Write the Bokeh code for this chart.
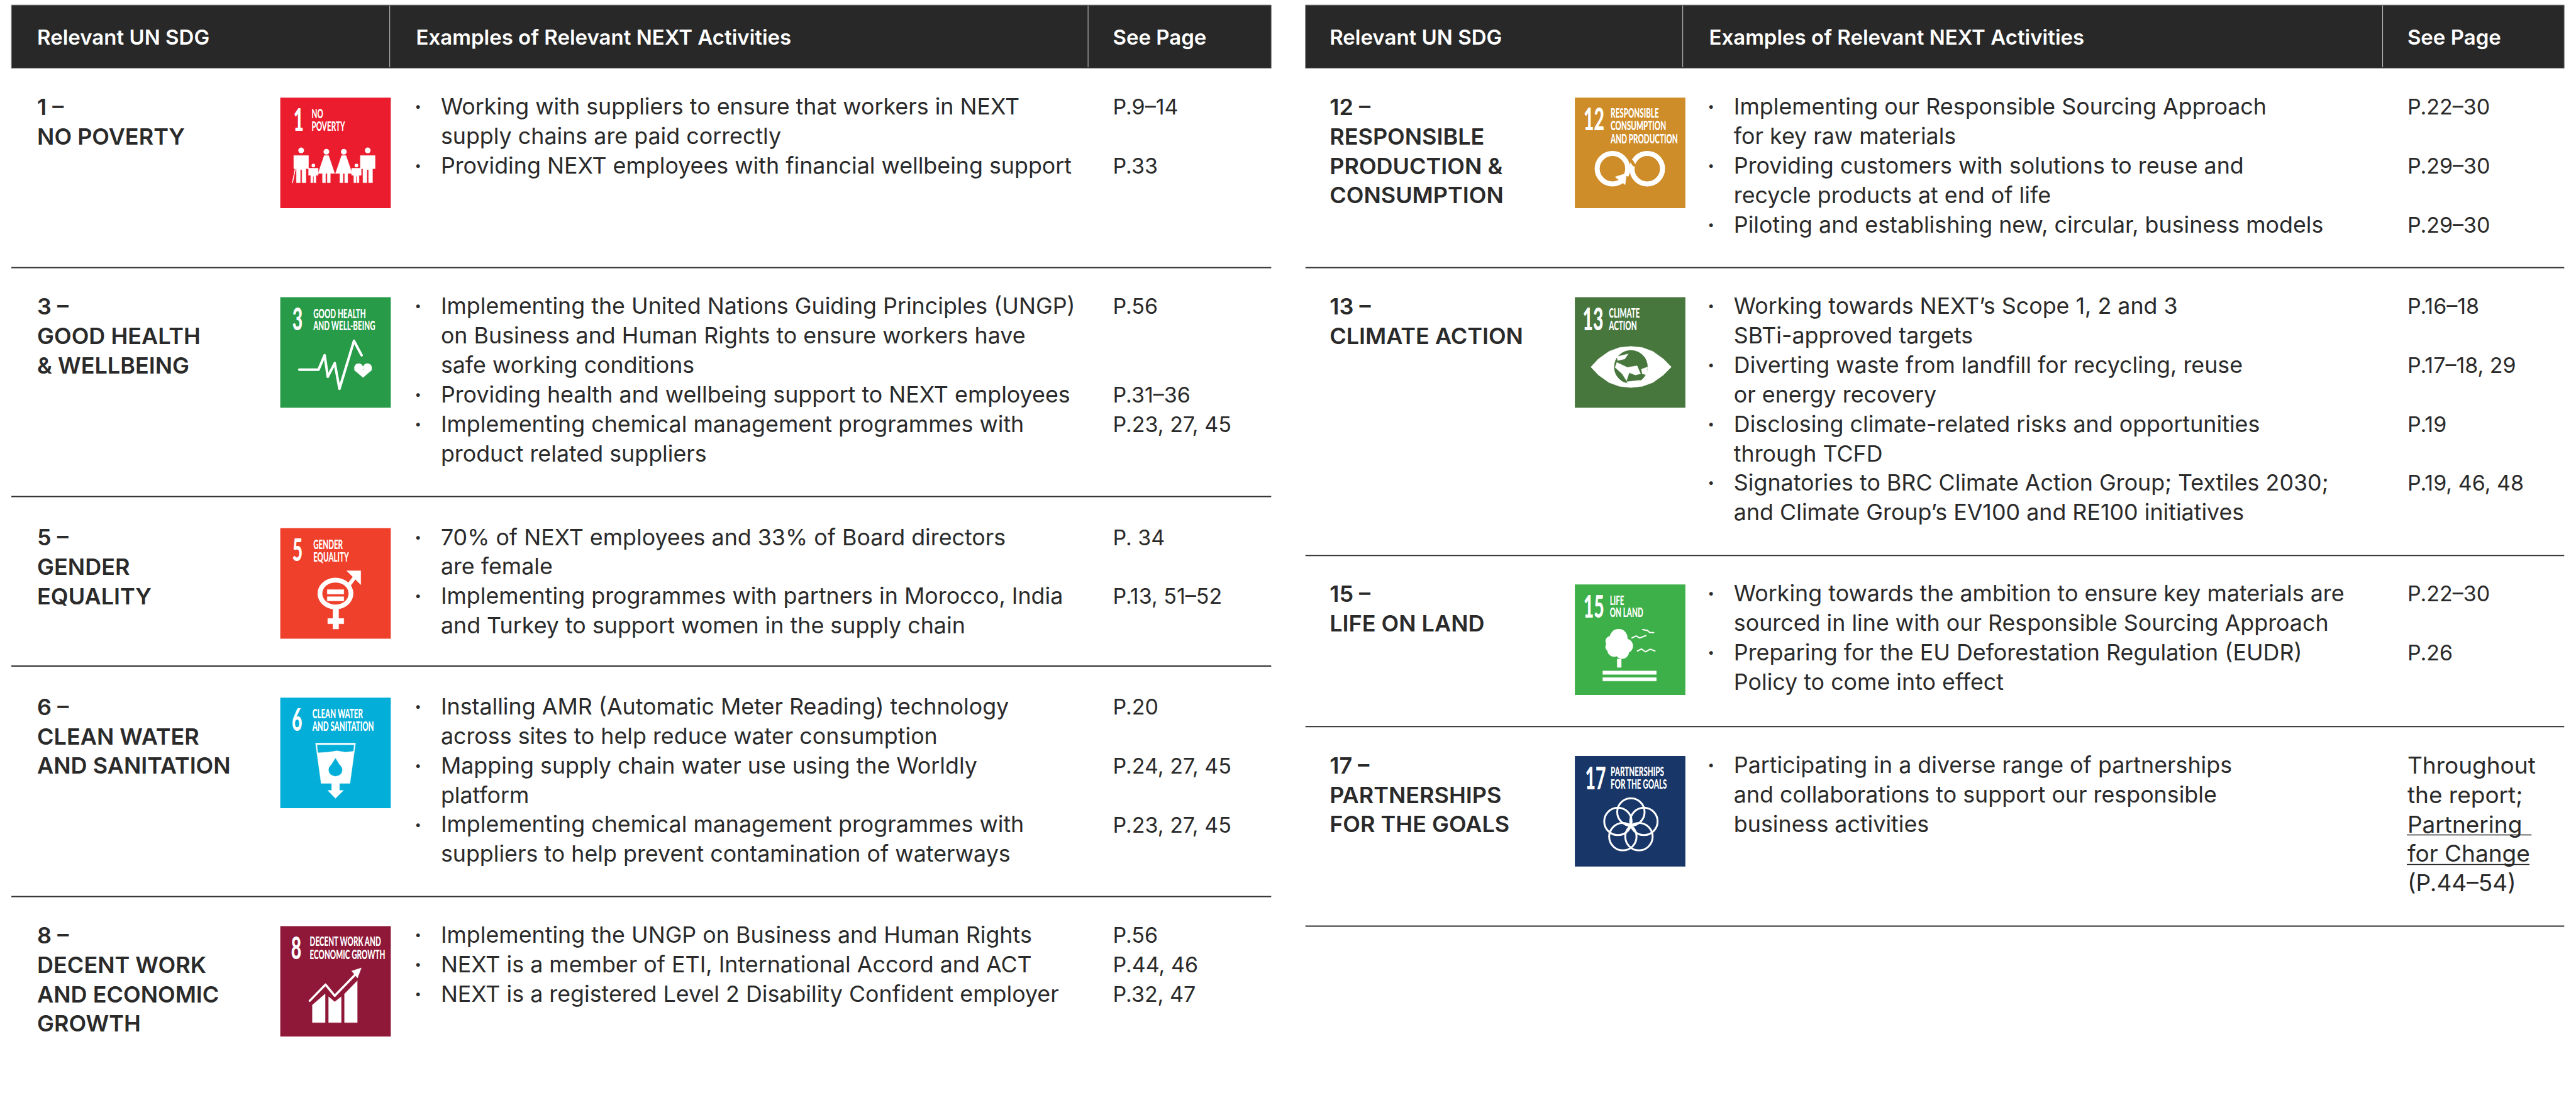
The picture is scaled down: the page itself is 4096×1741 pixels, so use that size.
from bokeh.plotting import figure
from bokeh.embed import file_html
from bokeh.resources import INLINE
from bokeh.core.properties import value
from bokeh.document import Document
from bokeh.models import Range1d, CustomJS

# ---------- table content ----------
headers = ["Relevant UN SDG", "Examples of Relevant NEXT Activities", "See Page"]

sdg_numbers = [1, 3, 5, 6, 8, 12, 13, 15, 17]
sdg_labels = [
    ["1 –", "NO POVERTY"],
    ["3 –", "GOOD HEALTH", "& WELLBEING"],
    ["5 –", "GENDER", "EQUALITY"],
    ["6 –", "CLEAN WATER", "AND SANITATION"],
    ["8 –", "DECENT WORK", "AND ECONOMIC", "GROWTH"],
    ["12 –", "RESPONSIBLE", "PRODUCTION &", "CONSUMPTION"],
    ["13 –", "CLIMATE ACTION"],
    ["15 –", "LIFE ON LAND"],
    ["17 –", "PARTNERSHIPS", "FOR THE GOALS"],
]
sdg_captions = [
    ["NO", "POVERTY"],
    ["GOOD HEALTH", "AND WELL-BEING"],
    ["GENDER", "EQUALITY"],
    ["CLEAN WATER", "AND SANITATION"],
    ["DECENT WORK AND", "ECONOMIC GROWTH"],
    ["RESPONSIBLE", "CONSUMPTION", "AND PRODUCTION"],
    ["CLIMATE", "ACTION"],
    ["LIFE", "ON LAND"],
    ["PARTNERSHIPS", "FOR THE GOALS"],
]
# each activity: list of wrapped lines; "pages" holds the reference for its first line
activities = [
    [["Working with suppliers to ensure that workers in NEXT", "supply chains are paid correctly"],
     ["Providing NEXT employees with financial wellbeing support"]],
    [["Implementing the United Nations Guiding Principles (UNGP)", "on Business and Human Rights to ensure workers have", "safe working conditions"],
     ["Providing health and wellbeing support to NEXT employees"],
     ["Implementing chemical management programmes with", "product related suppliers"]],
    [["70% of NEXT employees and 33% of Board directors", "are female"],
     ["Implementing programmes with partners in Morocco, India", "and Turkey to support women in the supply chain"]],
    [["Installing AMR (Automatic Meter Reading) technology", "across sites to help reduce water consumption"],
     ["Mapping supply chain water use using the Worldly", "platform"],
     ["Implementing chemical management programmes with", "suppliers to help prevent contamination of waterways"]],
    [["Implementing the UNGP on Business and Human Rights"],
     ["NEXT is a member of ETI, International Accord and ACT"],
     ["NEXT is a registered Level 2 Disability Confident employer"]],
    [["Implementing our Responsible Sourcing Approach", "for key raw materials"],
     ["Providing customers with solutions to reuse and", "recycle products at end of life"],
     ["Piloting and establishing new, circular, business models"]],
    [["Working towards NEXT’s Scope 1, 2 and 3", "SBTi-approved targets"],
     ["Diverting waste from landfill for recycling, reuse", "or energy recovery"],
     ["Disclosing climate-related risks and opportunities", "through TCFD"],
     ["Signatories to BRC Climate Action Group; Textiles 2030;", "and Climate Group’s EV100 and RE100 initiatives"]],
    [["Working towards the ambition to ensure key materials are", "sourced in line with our Responsible Sourcing Approach"],
     ["Preparing for the EU Deforestation Regulation (EUDR)", "Policy to come into effect"]],
    [["Participating in a diverse range of partnerships", "and collaborations to support our responsible", "business activities"]],
]
pages = [
    ["P.9–14", "P.33"],
    ["P.56", "P.31–36", "P.23, 27, 45"],
    ["P. 34", "P.13, 51–52"],
    ["P.20", "P.24, 27, 45", "P.23, 27, 45"],
    ["P.56", "P.44, 46", "P.32, 47"],
    ["P.22–30", "P.29–30", "P.29–30"],
    ["P.16–18", "P.17–18, 29", "P.19", "P.19, 46, 48"],
    ["P.22–30", "P.26"],
    [],
]
partner_pages = ["Throughout", "the report;", "Partnering", "for Change", "(P.44–54)"]

# ---------- layout (in reference pixels) ----------
SCALE = 4096 / 4895
W, H = 4080, 1725
tile_colors = ["#ea1c2d", "#279b48", "#ef402b", "#03aed9", "#8f1838", "#cf8d2a", "#48773e", "#3eb049", "#183668"]
tile_tops = [185, 564, 1003, 1325, 1759, 185, 564, 1110, 1436]
tile_size = 210
is_right = [False] * 5 + [True] * 4
rule_y_left = [508, 943, 1265, 1703]
rule_y_right = [508, 1055, 1380, 1759]

L = dict(x0=21, x1=2415, div1=740, div2=2067, label=70, tile=532, bullet=787, text=837, page=2114)
R = dict(x0=2480, x1=4872, div1=3197, div2=4527, label=2526, tile=2992, bullet=3244, text=3294, page=4574)
head_top, head_bot = 9, 129
LINE = 56
INK = "#2a2a2a"
BODY = "Inter"
BODY_PX = 35.8
PAGE_PX = 34
PARTNER_PX = 37
HEAD_PX = 33
LABEL_PX = 36
TILE_NUM_PX = 49
TILE_CAP_PX = 20
BASE_FIX = 0.34   # this renderer draws "alphabetic" text lower than its y

p = figure(width=W, height=H, output_backend="svg", toolbar_location=None,
           x_range=Range1d(0, W / SCALE), y_range=Range1d(H / SCALE, 0),
           min_border=0, outline_line_color=None)
p.xaxis.visible = False
p.yaxis.visible = False
p.grid.visible = False
p.background_fill_color = "white"


def put(xs, ys, texts, size, font=BODY, style="normal", color=INK):
    d = BASE_FIX * size / SCALE
    p.text(x=xs, y=[y - d for y in ys], text=texts, text_font=value(font), text_font_size=value(f"{size}px"),
           text_font_style=style, text_color=color, text_baseline="alphabetic", text_align="left")


# headers and rules
for c, rules in ((L, rule_y_left), (R, rule_y_right)):
    p.quad(left=c["x0"], right=c["x1"], top=head_top, bottom=head_bot, fill_color="#282828",
           line_color="#8a8a8a", line_width=1)
    p.segment(x0=[c["div1"], c["div2"]], x1=[c["div1"], c["div2"]], y0=head_top + 1, y1=head_bot - 2,
              line_color="#c8c8c8", line_width=1)
    put([c["label"], c["bullet"] + 3, c["page"]], [83] * 3, headers, HEAD_PX, font="Inter SemiBold", color="white")
    p.segment(x0=c["x0"], x1=c["x1"], y0=rules, y1=rules, line_color="#2e2e2e", line_width=2)

# rows
lab_x, lab_y, lab_t = [], [], []
txt_x, txt_y, txt_t = [], [], []
bul_x, bul_y, bul_t = [], [], []
pag_x, pag_y, pag_t = [], [], []
for i in range(len(sdg_numbers)):
    c = R if is_right[i] else L
    top = tile_tops[i]
    for k, s in enumerate(sdg_labels[i]):
        lab_x.append(c["label"]); lab_y.append(top + 32 + LINE * k); lab_t.append(s)
    n = 0
    for a, lines in enumerate(activities[i]):
        bul_x.append(c["bullet"]); bul_y.append(top + 31 + LINE * n); bul_t.append("·")
        if a < len(pages[i]):
            pag_x.append(c["page"]); pag_y.append(top + 31 + LINE * n); pag_t.append(pages[i][a])
        for s in lines:
            txt_x.append(c["text"]); txt_y.append(top + 31 + LINE * n); txt_t.append(s)
            n += 1
put(lab_x, lab_y, lab_t, LABEL_PX, font="Inter SemiBold")
put(txt_x, txt_y, txt_t, BODY_PX)
put(bul_x, bul_y, bul_t, PAGE_PX, style="bold")
put(pag_x, pag_y, pag_t, PAGE_PX)
put([R["page"]] * 5, [tile_tops[8] + 32 + LINE * k for k in range(5)], partner_pages, PARTNER_PX)
p.segment(x0=[4573, 4573], x1=[4810, 4806], y0=[1586, 1642], y1=[1586, 1642], line_color=INK, line_width=1.5)

crop = [((642, 518), (254, 587)), ((156, 88), (633, 422)), ((156, 971), (633, 421)), ((156, 56), (633, 472)),
        ((156, 1028), (633, 472)), ((126, 81), (629, 484)), ((126, 955), (629, 483)), ((126, 78), (629, 552)),
        ((126, 930), (629, 548))]
num_pos = [(672, 690), (225, 210), (225, 1092), (222, 193), (218, 1165), (176, 220), (170, 1095), (175, 238), (185, 1090)]
cap_x = [714, 345, 345, 340, 325, 330, 320, 325, 330]
cap_base = [[622, 690], [165, 212], [1047, 1096], [140, 194], [1110, 1165], [165, 220, 278], [1040, 1095], [178, 238], [1025, 1088]]
NARROW = "Lato Black"


def mapper(i):
    (ox, oy), (sx, sy) = crop[i]
    tx = (L if not is_right[i] else R)["tile"]
    ty = tile_tops[i]
    return lambda x, y: (tx + (x - ox) / sx * tile_size, ty + (y - oy) / sy * tile_size)


def poly(m, pts, color="white"):
    q = [m(*a) for a in pts]
    p.patch([a[0] for a in q], [a[1] for a in q], fill_color=color, line_color=color, line_width=0.5)


def pline(m, pts, width, color="white"):
    q = [m(*a) for a in pts]
    p.line([a[0] for a in q], [a[1] for a in q], line_color=color, line_width=width, line_join="round", line_cap="round")


def ell(m, x, y, w, h=None, color="white", stroke=None):
    cx, cy = m(x, y)
    h = w if h is None else h
    if stroke:
        p.ellipse(x=[cx], y=[cy], width=w, height=h, fill_alpha=0, line_color=color, line_width=stroke)
    else:
        p.ellipse(x=[cx], y=[cy], width=w, height=h, fill_color=color, line_color=None)


for i in range(9):
    m = mapper(i)
    tx = (L if not is_right[i] else R)["tile"]
    ty = tile_tops[i]
    p.quad(left=tx, right=tx + tile_size, top=ty, bottom=ty + tile_size, fill_color=tile_colors[i], line_color=None)
    nx, ny = m(*num_pos[i])
    put([nx], [ny], [str(sdg_numbers[i])], TILE_NUM_PX, font=NARROW, color="white")
    cq = [m(cap_x[i], b) for b in cap_base[i]]
    put([a[0] for a in cq], [a[1] for a in cq], sdg_captions[i], TILE_CAP_PX, font=NARROW, color="white")

# icon 1: family
m = mapper(0)
for cx in (690, 843):
    ell(m, cx, 798, 11)
    poly(m, [(cx - 17, 825), (cx + 17, 825), (cx + 17, 895), (cx + 11, 895), (cx + 11, 970), (cx + 2, 970), (cx + 2, 900), (cx - 2, 900), (cx - 2, 970), (cx - 11, 970), (cx - 11, 895), (cx - 17, 895)])
for cx in (748, 788):
    ell(m, cx, 805, 11)
    poly(m, [(cx - 5, 825), (cx + 5, 825), (cx + 19, 920), (cx + 9, 920), (cx + 9, 970), (cx + 2, 970), (cx + 2, 920), (cx - 2, 920), (cx - 2, 970), (cx - 9, 970), (cx - 9, 920), (cx - 19, 920)])
for cx in (718, 817):
    ell(m, cx, 878, 7)
    poly(m, [(cx - 11, 893), (cx + 11, 893), (cx + 11, 930), (cx + 6, 930), (cx + 6, 970), (cx + 1, 970), (cx + 1, 935), (cx - 1, 935), (cx - 1, 970), (cx - 6, 970), (cx - 6, 930), (cx - 11, 930)])
pline(m, [(677, 890), (670, 970)], 1.5)

# icon 3: heartbeat and heart
m = mapper(1)
pline(m, [(265, 365), (375, 365), (410, 310), (428, 392), (468, 340), (495, 438), (578, 255), (622, 310)], 4)
ell(m, 605, 358, 17)
ell(m, 655, 358, 17)
poly(m, [(578, 365), (682, 365), (630, 395)])

# icon 5: gender symbol
m = mapper(2)
ell(m, 472, 1220, 68, 60)
ell(m, 472, 1220, 50, 42, color=tile_colors[2])
poly(m, [(425, 1205), (520, 1205), (520, 1222), (425, 1222)])
poly(m, [(425, 1232), (520, 1232), (520, 1248), (425, 1248)])
poly(m, [(458, 1278), (490, 1278), (490, 1315), (520, 1315), (520, 1335), (490, 1335), (490, 1355), (458, 1355), (458, 1335), (428, 1335), (428, 1315), (458, 1315)])
poly(m, [(536, 1133), (617, 1133), (617, 1186)])
pline(m, [(548, 1188), (592, 1150)], 6)

# icon 6: glass with drop
m = mapper(3)
poly(m, [(358, 250), (587, 250), (555, 422), (495, 422), (495, 452), (518, 452), (472, 486), (428, 452), (450, 452), (450, 422), (390, 422)])
poly(m, [(368, 258), (578, 258), (574, 284), (530, 288), (480, 282), (430, 288), (372, 290)], color=tile_colors[3])
ell(m, 472, 365, 26, 24, color=tile_colors[3])
poly(m, [(472, 315), (508, 358), (436, 358)], color=tile_colors[3])

# icon 8: bars and rising arrow
m = mapper(4)
poly(m, [(340, 1440), (340, 1365), (413, 1318), (413, 1440)])
poly(m, [(433, 1440), (433, 1330), (468, 1352), (505, 1330), (505, 1440)])
poly(m, [(524, 1440), (524, 1318), (597, 1262), (597, 1440)])
pline(m, [(325, 1347), (415, 1278), (468, 1326), (590, 1232)], 3.5)
poly(m, [(565, 1220), (620, 1207), (598, 1250)])

# icon 12: infinity loop
m = mapper(5)
ell(m, 340, 392, 58, 58, stroke=8)
ell(m, 538, 392, 58, 58, stroke=8)
pline(m, [(405, 442), (420, 436)], 8, color=tile_colors[5])
poly(m, [(355, 428), (420, 412), (412, 462)])
pline(m, [(450, 360), (462, 375)], 5, color=tile_colors[5])

# icon 13: eye with globe
m = mapper(6)
poly(m, [(217, 1260), (260, 1225), (320, 1192), (380, 1175), (445, 1170), (510, 1175), (570, 1192), (630, 1225), (675, 1260),
         (630, 1295), (570, 1328), (510, 1345), (445, 1350), (380, 1345), (320, 1328), (260, 1295)])
ell(m, 445, 1260, 64, 64, color=tile_colors[6])
poly(m, [(365, 1215), (430, 1203), (410, 1225), (370, 1232)])
poly(m, [(365, 1240), (425, 1262), (480, 1255), (500, 1290), (470, 1295), (435, 1285), (420, 1320), (395, 1290), (355, 1262)])
poly(m, [(505, 1270), (540, 1260), (535, 1295), (510, 1290)])
poly(m, [(420, 1325), (500, 1318), (480, 1332), (430, 1335)])

# icon 15: tree, birds and ground
m = mapper(7)
for x, y, d in ((375, 345, 34), (330, 362, 20), (415, 385, 28), (350, 405, 26), (395, 415, 26), (325, 390, 17)):
    ell(m, x, y, d)
poly(m, [(367, 450), (390, 450), (390, 492), (367, 492)])
poly(m, [(285, 510), (590, 510), (590, 527), (285, 527)])
poly(m, [(285, 543), (590, 543), (590, 560), (285, 560)])
pline(m, [(450, 345), (475, 335), (495, 345), (530, 333)], 2)
pline(m, [(512, 303), (540, 308), (552, 318), (575, 318)], 2)
pline(m, [(482, 410), (505, 400), (528, 414), (555, 401), (582, 410)], 2)

# icon 17: five interlocked rings
m = mapper(8)
cx, cy = m(445, 1275)
rx = [0, -24.7, -15.3, 15.3, 24.7]
ry = [-26, -8, 21, 21, -8]
p.ellipse(x=[cx + a for a in rx], y=[cy + b for b in ry], width=52, height=52, fill_alpha=0, line_color="white", line_width=3)

# the tile lettering is a condensed face: narrow the white Lato texts once they are drawn
narrow_js = """
const squeeze = () => {
  const walk = (root) => {
    root.querySelectorAll('*').forEach((el) => {
      if (el.shadowRoot) walk(el.shadowRoot);
      if (el.tagName.toLowerCase() === 'text' && !el.hasAttribute('data-narrow')) {
        const fam = (el.getAttribute('font-family') || '') + (el.getAttribute('style') || '');
        if (fam.includes('Lato')) {
          const t = el.getAttribute('transform') || '';
          const x = parseFloat(el.getAttribute('x') || '0');
          el.setAttribute('transform', t + ' translate(' + (x * 0.42) + ',0) scale(0.58,1)');
          el.setAttribute('data-narrow', '1');
        }
      }
    });
  };
  walk(document);
};
squeeze();
setInterval(squeeze, 100);
"""
doc = Document()
doc.add_root(p)
doc.js_on_event("document_ready", CustomJS(code=narrow_js))

open("out.html", "w").write(file_html(doc, INLINE))
